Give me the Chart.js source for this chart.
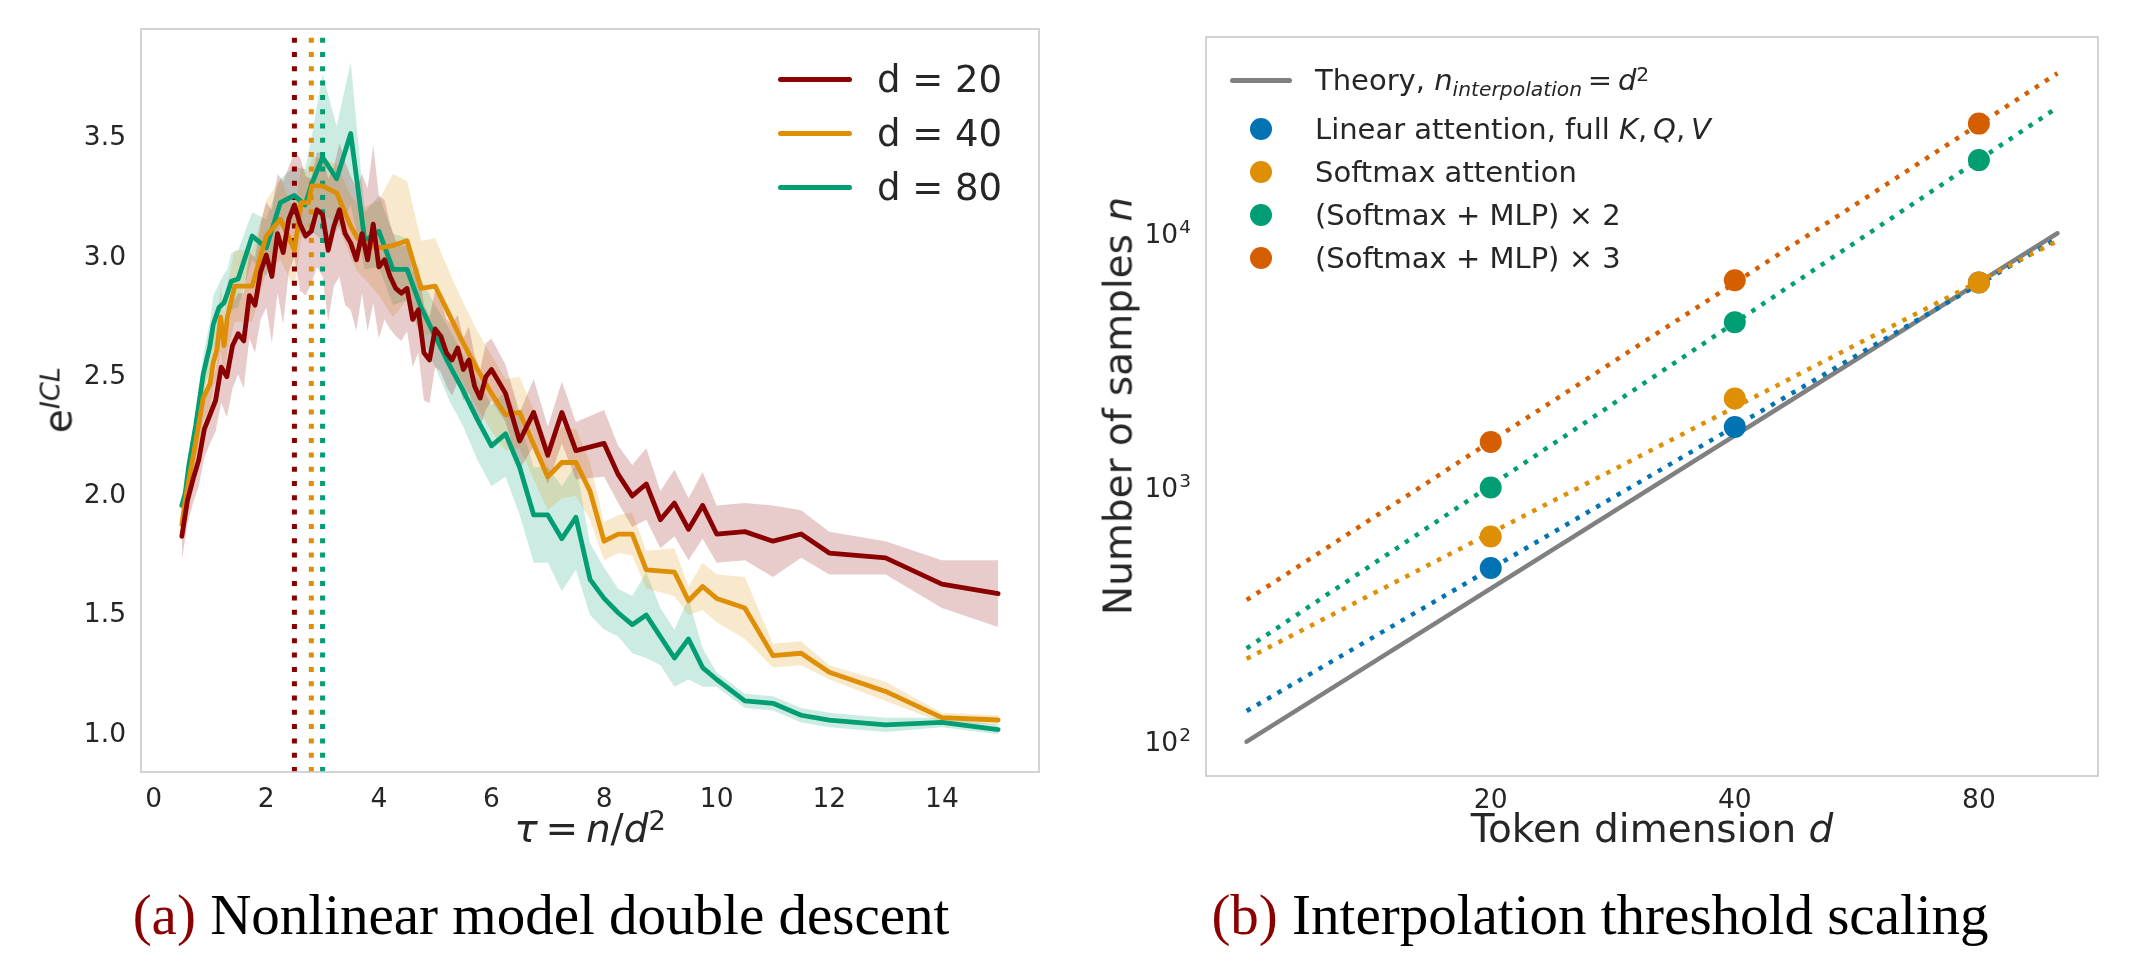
<!DOCTYPE html>
<html>
<head>
<meta charset="utf-8">
<script src="https://cdn.jsdelivr.net/npm/chart.js@4.4.1/dist/chart.umd.min.js"></script>
<style>
  html, body { margin: 0; padding: 0; background: #fff; }
  body { width: 2131px; height: 957px; position: relative; overflow: hidden;
         font-family: "DejaVu Sans", sans-serif; color: #262626; }
  canvas { position: absolute; top: 0; }
  #chart-a { left: 0; }
  #chart-b { left: 1066px; }
  .t { position: absolute; white-space: nowrap; line-height: normal; }
  .sup { position: relative; top: -0.45em; font-size: 0.7em; line-height: 1; }
  .sub { position: relative; top: 0.3em; font-size: 0.7em; line-height: 1; }
  .row { position: absolute; height: 50px; display: flex; align-items: center; white-space: nowrap; }
  .swatch { display: inline-block; height: 5px; border-radius: 2.5px; }
  .dot { display: inline-block; width: 22px; height: 22px; border-radius: 50%; }
  .cap { position: absolute; top: 882px; font-family: "Liberation Serif", serif; font-size: 57px;
         color: #000; white-space: nowrap; transform: translateX(-50%); line-height: normal; }
  .cap span { color: #8b0000; }
</style>
</head>
<body>
<canvas id="chart-a" width="1065" height="860"></canvas>
<canvas id="chart-b" width="1065" height="860"></canvas>

<!-- panel (a) text -->
<div class="t" style="left:58px; top:400px; font-size:39px; transform: translate(-50%, -50%) rotate(-90deg);">e<span class="sup"><i>ICL</i></span></div>
<div class="t" style="left:590px; top:806px; font-size:39px; transform: translateX(-50%);"><i>τ</i>&thinsp;=&thinsp;<i>n</i>/<i>d</i><span class="sup">2</span></div>
<div class="row" style="left:778px; top:54px; font-size:37px;"><span class="swatch" style="width:74px; background:#8b0000; margin-right:25px;"></span><span>d = 20</span></div>
<div class="row" style="left:778px; top:108px; font-size:37px;"><span class="swatch" style="width:74px; background:#de8f05; margin-right:25px;"></span><span>d = 40</span></div>
<div class="row" style="left:778px; top:162px; font-size:37px;"><span class="swatch" style="width:74px; background:#029e73; margin-right:25px;"></span><span>d = 80</span></div>

<!-- panel (b) text -->
<div class="t" style="left:1118px; top:406px; font-size:39px; transform: translate(-50%, -50%) rotate(-90deg);">Number of samples <i>n</i></div>
<div class="t" style="left:1652px; top:806px; font-size:39px; transform: translateX(-50%);">Token dimension <i>d</i></div>
<div class="row" style="left:1230px; top:55px; font-size:29px;"><span class="swatch" style="width:62px; background:#808080; margin-right:23px;"></span><span>Theory, <i>n</i><span class="sub"><i>interpolation</i></span>&thinsp;=&thinsp;<i>d</i><span class="sup">2</span></span></div>
<div class="row" style="left:1250px; top:104px; font-size:29px;"><span class="dot" style="background:#0173b2; margin-right:43px;"></span><span>Linear attention, full <i>K</i>,&thinsp;<i>Q</i>,&thinsp;<i>V</i></span></div>
<div class="row" style="left:1250px; top:147px; font-size:29px;"><span class="dot" style="background:#de8f05; margin-right:43px;"></span><span>Softmax attention</span></div>
<div class="row" style="left:1250px; top:190px; font-size:29px;"><span class="dot" style="background:#029e73; margin-right:43px;"></span><span>(Softmax + MLP) × 2</span></div>
<div class="row" style="left:1250px; top:233px; font-size:29px;"><span class="dot" style="background:#d55e00; margin-right:43px;"></span><span>(Softmax + MLP) × 3</span></div>

<div class="cap" style="left:541px;"><span>(a)</span> Nonlinear model double descent</div>
<div class="cap" style="left:1600px;"><span>(b)</span> Interpolation threshold scaling</div>

<script>
  /* ── Panel (a): ICL error vs tau = n/d^2 ───────── */

  const tauD20 = [0.5, 0.6, 0.7, 0.8, 0.9, 1.0, 1.1, 1.2, 1.3, 1.4, 1.5, 1.6, 1.7, 1.8, 1.9, 2.0,
    2.1, 2.2, 2.3, 2.4, 2.5, 2.6, 2.7, 2.8, 2.9, 3.0, 3.1, 3.2, 3.3, 3.4, 3.5, 3.6, 3.7, 3.8, 3.9, 4.0,
    4.1, 4.2, 4.3, 4.4, 4.5, 4.6, 4.7, 4.8, 4.9, 5.0, 5.1, 5.2, 5.3, 5.4, 5.5, 5.6, 5.7, 5.8, 5.9, 6.0,
    6.25, 6.5, 6.75, 7.0, 7.25, 7.5, 8.0, 8.25, 8.5, 8.75, 9.0, 9.25, 9.5, 9.75, 10, 10.5, 11, 11.5, 12, 13, 14, 15];
  const errorD20 = [1.82, 1.97, 2.06, 2.14, 2.27, 2.33, 2.39, 2.53, 2.49, 2.62, 2.67, 2.64, 2.83, 2.79, 2.93, 3.00,
    2.91, 3.09, 3.01, 3.15, 3.21, 3.13, 3.08, 3.10, 3.19, 3.17, 3.02, 3.12, 3.19, 3.09, 3.05, 2.98, 3.09, 2.98, 3.13, 2.95,
    2.98, 2.91, 2.86, 2.84, 2.86, 2.73, 2.77, 2.59, 2.56, 2.69, 2.66, 2.59, 2.56, 2.61, 2.52, 2.56, 2.45, 2.40, 2.49, 2.52,
    2.42, 2.22, 2.34, 2.16, 2.34, 2.18, 2.21, 2.08, 1.99, 2.04, 1.89, 1.96, 1.85, 1.95, 1.83, 1.84, 1.80, 1.83, 1.75, 1.73, 1.62, 1.58];
  const spreadD20 = [0.10, 0.10, 0.10, 0.11, 0.12, 0.12, 0.13, 0.15, 0.17, 0.18, 0.17, 0.20, 0.18, 0.20, 0.20, 0.22,
    0.28, 0.25, 0.30, 0.22, 0.22, 0.28, 0.25, 0.22, 0.24, 0.26, 0.30, 0.25, 0.28, 0.30, 0.28, 0.30, 0.25, 0.30, 0.33, 0.30,
    0.25, 0.22, 0.20, 0.20, 0.18, 0.20, 0.18, 0.20, 0.18, 0.16, 0.15, 0.14, 0.15, 0.14, 0.13, 0.14, 0.13, 0.12, 0.14, 0.13,
    0.12, 0.12, 0.14, 0.12, 0.13, 0.12, 0.14, 0.12, 0.13, 0.15, 0.12, 0.14, 0.13, 0.14, 0.12, 0.12, 0.15, 0.10, 0.09, 0.07, 0.10, 0.14];

  const tauD40 = [0.5, 0.56, 0.62, 0.75, 0.88, 1.0, 1.06, 1.12, 1.19, 1.25, 1.31, 1.44, 1.75, 2.0, 2.25, 2.5,
    2.62, 2.75, 2.81, 3.0, 3.25, 3.5, 3.62, 3.75, 4.0, 4.25, 4.5, 4.75, 5.0, 5.25, 5.5, 5.75, 6.0, 6.25, 6.5,
    7.0, 7.25, 7.5, 7.75, 8.0, 8.25, 8.5, 8.75, 9.25, 9.5, 9.75, 10, 10.5, 11, 11.5, 12, 13, 14, 15];
  const errorD40 = [1.87, 1.97, 2.05, 2.22, 2.40, 2.46, 2.55, 2.60, 2.74, 2.62, 2.74, 2.87, 2.87, 3.08, 3.15, 3.02,
    3.22, 3.22, 3.29, 3.29, 3.26, 3.12, 3.07, 3.05, 3.03, 3.04, 3.06, 2.86, 2.87, 2.75, 2.63, 2.52, 2.42, 2.33, 2.34,
    2.07, 2.13, 2.13, 2.01, 1.80, 1.83, 1.83, 1.68, 1.67, 1.55, 1.61, 1.56, 1.52, 1.32, 1.33, 1.25, 1.17, 1.06, 1.05];
  const spreadD40 = [0.06, 0.06, 0.07, 0.08, 0.10, 0.10, 0.10, 0.12, 0.14, 0.13, 0.14, 0.15, 0.15, 0.15, 0.17, 0.16,
    0.15, 0.13, 0.12, 0.12, 0.12, 0.13, 0.14, 0.15, 0.20, 0.30, 0.25, 0.20, 0.20, 0.18, 0.17, 0.16, 0.16, 0.15, 0.15,
    0.14, 0.15, 0.14, 0.12, 0.08, 0.08, 0.09, 0.08, 0.10, 0.06, 0.10, 0.10, 0.13, 0.05, 0.05, 0.03, 0.04, 0.02, 0.02];

  const tauD80 = [0.5, 0.56, 0.62, 0.75, 0.88, 1.0, 1.06, 1.16, 1.25, 1.31, 1.38, 1.5, 1.75, 2.0, 2.25, 2.5,
    2.69, 2.81, 3.0, 3.25, 3.5, 3.75, 4.0, 4.25, 4.5, 4.75, 5.0, 5.25, 5.5, 5.75, 6.0, 6.25, 6.5, 6.75, 7.0,
    7.25, 7.5, 7.75, 8.0, 8.25, 8.5, 8.75, 9.0, 9.25, 9.5, 9.75, 10, 10.5, 11, 11.5, 12, 13, 14, 15];
  const errorD80 = [1.95, 2.00, 2.11, 2.29, 2.50, 2.62, 2.71, 2.78, 2.80, 2.84, 2.89, 2.90, 3.08, 3.03, 3.22, 3.25,
    3.21, 3.30, 3.41, 3.32, 3.51, 3.06, 3.10, 2.94, 2.94, 2.78, 2.66, 2.54, 2.43, 2.31, 2.20, 2.25, 2.11, 1.91, 1.91,
    1.81, 1.90, 1.64, 1.56, 1.50, 1.45, 1.49, 1.40, 1.31, 1.39, 1.27, 1.22, 1.13, 1.12, 1.07, 1.05, 1.03, 1.04, 1.01];
  const spreadD80 = [0.03, 0.04, 0.05, 0.06, 0.08, 0.10, 0.12, 0.10, 0.12, 0.10, 0.12, 0.12, 0.10, 0.12, 0.10, 0.12,
    0.15, 0.20, 0.35, 0.22, 0.30, 0.12, 0.15, 0.15, 0.13, 0.12, 0.13, 0.15, 0.15, 0.17, 0.17, 0.18, 0.20, 0.20, 0.20,
    0.22, 0.22, 0.15, 0.13, 0.10, 0.12, 0.18, 0.12, 0.12, 0.17, 0.08, 0.03, 0.03, 0.03, 0.03, 0.03, 0.03, 0.02, 0.02];

  const peakTau = [2.5, 2.8, 3.0];               // interpolation peaks, d = 20 / 40 / 80
  const tauTicks = [0, 2, 4, 6, 8, 10, 12, 14];
  const errorTicks = [1.0, 1.5, 2.0, 2.5, 3.0, 3.5];

  /* ── Panel (b): interpolation threshold vs d ───── */

  const dims = [20, 40, 80];
  const nLinear = [482, 1730, 6400];
  const nSoftmax = [641, 2240, 6400];
  const nMlp2 = [1000, 4470, 19400];
  const nMlp3 = [1510, 6530, 27000];

  const fitDims = [10, 100];
  const nTheory = [100, 10000];
  const fitLinear = [132, 9540];
  const fitSoftmax = [212, 9330];
  const fitMlp2 = [233, 31250];
  const fitMlp3 = [361, 42600];

  const dimTicks = [20, 40, 80];
  const nTicks = [100, 1000, 10000];
  const nTickExp = ['2', '3', '4'];

  /* ── Helpers ───────────────────────────────────── */

  const RED = '#8b0000', ORANGE = '#de8f05', GREEN = '#029e73', BLUE = '#0173b2', VERMIL = '#d55e00', GREY = '#808080';
  const TAU_MIN = -0.225, TAU_MAX = 15.725, ERR_MIN = 0.832, ERR_MAX = 3.948;
  const TICK_FONT = '26.5px "DejaVu Sans"', SUP_FONT = '18.5px "DejaVu Sans"';

  const pts = (xs, ys) => xs.map((x, i) => ({ x: x, y: ys[i] }));
  const shifted = (xs, ys, sp, sign) => xs.map((x, i) => ({ x: x, y: ys[i] + sign * sp[i] }));

  function drawNum(ctx, base, sup, x, y, align) {
    ctx.font = TICK_FONT;
    const wb = ctx.measureText(base).width;
    let ws = 0;
    if (sup) {
      ctx.font = SUP_FONT;
      ws = ctx.measureText(sup).width + 1;
    }
    const total = wb + ws;
    const left = align === 'right' ? x - total : align === 'center' ? x - total / 2 : x;
    ctx.textAlign = 'left';
    ctx.font = TICK_FONT;
    ctx.fillText(base, left, y);
    if (sup) {
      ctx.font = SUP_FONT;
      ctx.fillText(sup, left + wb + 1, y - 10);
    }
  }

  // frame + tick labels, placed with the chart's own scales
  const axisDecor = {
    id: 'axisDecor',
    afterDatasetsDraw(chart, args, o) {
      const { ctx, chartArea: a } = chart;
      const sx = chart.scales.x, sy = chart.scales.y;
      ctx.save();
      ctx.strokeStyle = '#cccccc';
      ctx.lineWidth = 1.7;
      ctx.strokeRect(a.left, a.top, a.right - a.left, a.bottom - a.top);
      ctx.fillStyle = '#262626';
      ctx.textBaseline = 'alphabetic';
      o.xTicks.forEach((v, i) => {
        drawNum(ctx, o.xLabels[i], null, sx.getPixelForValue(v), a.bottom + o.xOffset, 'center');
      });
      o.yTicks.forEach((v, i) => {
        drawNum(ctx, o.yLabels[i], o.ySup ? o.ySup[i] : null, a.left - 15, sy.getPixelForValue(v) + 9.6, 'right');
      });
      ctx.restore();
    }
  };

  /* ── Chart (a) ─────────────────────────────────── */

  const seriesA = [
    { tau: tauD20, err: errorD20, sp: spreadD20, color: RED, fill: 'rgba(139,0,0,0.2)' },
    { tau: tauD40, err: errorD40, sp: spreadD40, color: ORANGE, fill: 'rgba(222,143,5,0.2)' },
    { tau: tauD80, err: errorD80, sp: spreadD80, color: GREEN, fill: 'rgba(2,158,115,0.2)' },
  ];

  const setsA = [];
  seriesA.forEach((s) => {
    setsA.push({ data: shifted(s.tau, s.err, s.sp, -1), borderColor: 'rgba(0,0,0,0)', borderWidth: 0, fill: false, order: 3 });
    setsA.push({ data: shifted(s.tau, s.err, s.sp, 1), borderColor: 'rgba(0,0,0,0)', borderWidth: 0, fill: '-1', backgroundColor: s.fill, order: 3 });
  });
  peakTau.forEach((t, i) => {
    setsA.push({
      data: [{ x: t, y: ERR_MIN }, { x: t, y: ERR_MAX }],
      borderColor: seriesA[i].color, borderWidth: 5, borderDash: [5, 9.3], borderCapStyle: 'butt', order: 2,
    });
  });
  seriesA.forEach((s) => {
    setsA.push({
      data: pts(s.tau, s.err), borderColor: s.color, borderWidth: 4.8,
      borderJoinStyle: 'round', borderCapStyle: 'round', order: 1,
    });
  });

  new Chart(document.getElementById('chart-a'), {
    type: 'line',
    data: { datasets: setsA },
    plugins: [axisDecor],
    options: {
      responsive: false, animation: false, events: [], devicePixelRatio: 1,
      layout: { padding: { left: 0, top: 29, right: 26, bottom: 0 } },
      elements: { point: { radius: 0 }, line: { tension: 0 } },
      scales: {
        x: { type: 'linear', min: TAU_MIN, max: TAU_MAX, grid: { display: false, drawTicks: false },
             border: { display: false }, ticks: { display: false }, afterFit: (s) => { s.height = 88; } },
        y: { type: 'linear', min: ERR_MIN, max: ERR_MAX, grid: { display: false, drawTicks: false },
             border: { display: false }, ticks: { display: false }, afterFit: (s) => { s.width = 141; } },
      },
      plugins: {
        legend: { display: false }, tooltip: { enabled: false },
        filler: { drawTime: 'beforeDatasetsDraw' },
        axisDecor: {
          xTicks: tauTicks, xLabels: tauTicks.map(String), xOffset: 35,
          yTicks: errorTicks, yLabels: errorTicks.map((v) => v.toFixed(1)),
        },
      },
    },
  });

  /* ── Chart (b) ─────────────────────────────────── */

  const fitLine = (ys, color, order) => ({
    data: pts(fitDims, ys), borderColor: color, borderWidth: 4.5, borderDash: [4.5, 7.4],
    borderCapStyle: 'butt', pointRadius: 0, order: order,
  });
  const marks = (ys, color, order) => ({
    data: pts(dims, ys), showLine: false, pointRadius: 11, pointBorderWidth: 0,
    pointBackgroundColor: color, order: order,
  });

  new Chart(document.getElementById('chart-b'), {
    type: 'line',
    data: {
      datasets: [
        { data: pts(fitDims, nTheory), borderColor: GREY, borderWidth: 4.5, borderCapStyle: 'round', pointRadius: 0, order: 14 },
        fitLine(fitLinear, BLUE, 13),
        fitLine(fitSoftmax, ORANGE, 12),
        fitLine(fitMlp2, GREEN, 11),
        fitLine(fitMlp3, VERMIL, 10),
        marks(nLinear, BLUE, 4),
        marks(nSoftmax, ORANGE, 3),
        marks(nMlp2, GREEN, 2),
        marks(nMlp3, VERMIL, 1),
      ],
    },
    plugins: [axisDecor],
    options: {
      responsive: false, animation: false, events: [], devicePixelRatio: 1,
      layout: { padding: { left: 0, top: 37, right: 33, bottom: 0 } },
      elements: { line: { tension: 0 } },
      scales: {
        x: { type: 'logarithmic', min: 8.91, max: 112.2, grid: { display: false, drawTicks: false },
             border: { display: false }, ticks: { display: false }, afterFit: (s) => { s.height = 84; } },
        y: { type: 'logarithmic', min: 73.3, max: 59160, grid: { display: false, drawTicks: false },
             border: { display: false }, ticks: { display: false }, afterFit: (s) => { s.width = 140; } },
      },
      plugins: {
        legend: { display: false }, tooltip: { enabled: false },
        axisDecor: {
          xTicks: dimTicks, xLabels: dimTicks.map(String), xOffset: 32,
          yTicks: nTicks, yLabels: nTicks.map(() => '10'), ySup: nTickExp,
        },
      },
    },
  });
</script>
</body>
</html>
